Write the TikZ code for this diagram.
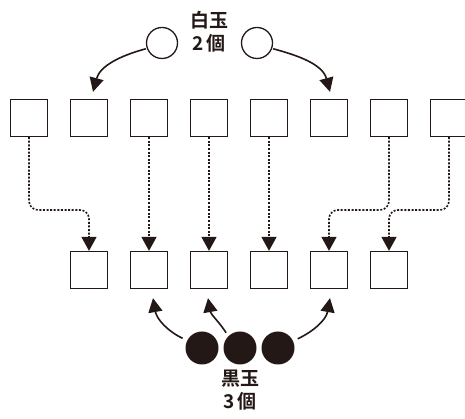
\documentclass[tikz,border=0pt]{standalone}
\usepackage{fontspec}
\newfontfamily\jp{Noto Sans CJK JP}[BoldFont={* Bold}]
\usetikzlibrary{arrows.meta,calc}
\definecolor{ink}{RGB}{35,24,21}
\tikzset{
  cell/.style={draw=ink, line width=1.3pt, minimum size=37pt, inner sep=0pt},
  dotarr/.style={draw=ink, line width=1.6pt, dash pattern=on 2pt off 1.6pt, rounded corners=9pt,
    -{Triangle[width=15pt,length=14pt]}},
  curarr/.style={draw=ink, line width=1.6pt, -{Triangle[width=14pt,length=14pt]}},
  wball/.style={circle, draw=ink, line width=1.3pt, minimum size=31pt, inner sep=0pt},
  kball/.style={circle, fill=ink, minimum size=33pt, inner sep=0pt},
  lbl/.style={font=\jp\bfseries\fontsize{19}{23}\selectfont, text=ink, align=center, inner sep=0pt}
}
\begin{document}
\begin{tikzpicture}[x=1pt,y=1pt]
\useasboundingbox (0,0) rectangle (465,419);
% top row
\foreach \i in {1,...,8} {
  \node[cell] (t\i) at ({29+60*(\i-1)},301) {};
}
% bottom row
\foreach \i in {1,...,6} {
  \node[cell] (b\i) at ({89+60*(\i-1)},149) {};
}
\coordinate (mid) at (0,209);
% dotted arrows
\draw[dotarr] (t1.south) -- (t1.south |- mid) -- (b1.north |- mid) -- (b1.north);
\draw[dotarr] (t3.south) -- (b2.north);
\draw[dotarr] (t4.south) -- (b3.north);
\draw[dotarr] (t5.south) -- (b4.north);
\draw[dotarr] (t7.south) -- (t7.south |- mid) -- (b5.north |- mid) -- (b5.north);
\draw[dotarr] (t8.south) -- (t8.south |- mid) -- (b6.north |- mid) -- (b6.north);
% white balls
\node[wball] (w1) at (162,376) {};
\node[wball] (w2) at (257,376) {};
\node[lbl] (wl) at (209,387) {白玉\\2\,個};
\draw[curarr, shorten <=1pt] (w1.200) to[out=195,in=75] ($(t2.north)+(4,7)$);
\draw[curarr, shorten <=1pt] (w2.-20) to[out=-15,in=105] ($(t6.north)+(1,7)$);
% black balls
\node[kball] (k1) at (202,71) {};
\node[kball] (k2) at (240,71) {};
\node[kball] (k3) at (278,71) {};
\node[lbl] (kl) at (240,29) {黒玉\\3\,個};
\draw[curarr, shorten <=5pt] (k1.153) to[out=155,in=-80] ($(b2.south)+(4,-9)$);
\draw[curarr, shorten <=4pt] (k2.135) to[out=122,in=-80] ($(b3.south)+(-1,-9)$);
\draw[curarr, shorten <=5pt] (k3.25) to[out=25,in=-100] ($(b5.south)+(1,-9)$);
\end{tikzpicture}
\end{document}
